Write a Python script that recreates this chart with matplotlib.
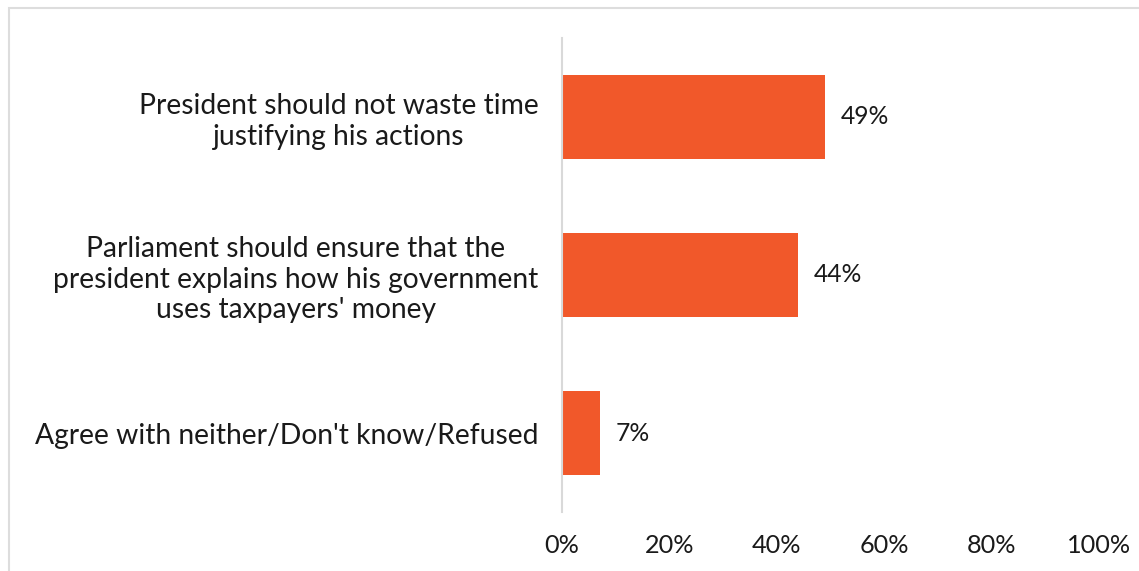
import matplotlib
matplotlib.use('Agg')
import matplotlib.pyplot as plt
from matplotlib.patches import Rectangle

categories = [
    "President should not waste time\njustifying his actions",
    "Parliament should ensure that the\npresident explains how his government\nuses taxpayers' money",
    "Agree with neither/Don't know/Refused",
]
values = [49, 44, 7]
tick_values = [0, 20, 40, 60, 80, 100]

plt.rcParams['font.family'] = ['Lato', 'DejaVu Sans']

fig = plt.figure(figsize=(11.39, 5.71), dpi=100)
ax = fig.add_axes([0.4934, 0.1033, 0.4711, 0.8302])

pos = list(range(len(categories)))
ax.barh(pos, values, height=0.53, color='#F1582A')
ax.set_ylim(len(categories) - 0.5, -0.5)
ax.set_xlim(0, 100)

for y, v in zip(pos, values):
    ax.annotate(f"{v}%", xy=(v, y), xytext=(16, 0), textcoords='offset pixels',
                va='center', ha='left', fontsize=17.8, color='#1a1a1a')

ax.set_yticks(pos)
ax.set_yticklabels(categories, fontsize=20.3, color='#1a1a1a', linespacing=1.2,
                   multialignment='center')
ax.set_xticks(tick_values)
ax.set_xticklabels([f"{t}%" for t in tick_values], fontsize=18.2, color='#1a1a1a')
ax.tick_params(axis='both', length=0)
ax.tick_params(axis='y', pad=17)
ax.tick_params(axis='x', pad=16)

for s in ['top', 'right', 'bottom']:
    ax.spines[s].set_visible(False)
ax.spines['left'].set_color('#D9D9D9')
ax.spines['left'].set_linewidth(1.5)

# outer chart border (partly cut by the image edge)
fig.patches.append(Rectangle((9 / 1139, -0.1), 1.2, 1 - 8 / 571 + 0.1,
                             transform=fig.transFigure, fill=False,
                             edgecolor='#DDDDDD', linewidth=1.5))

fig.savefig('out.png', dpi=100)
